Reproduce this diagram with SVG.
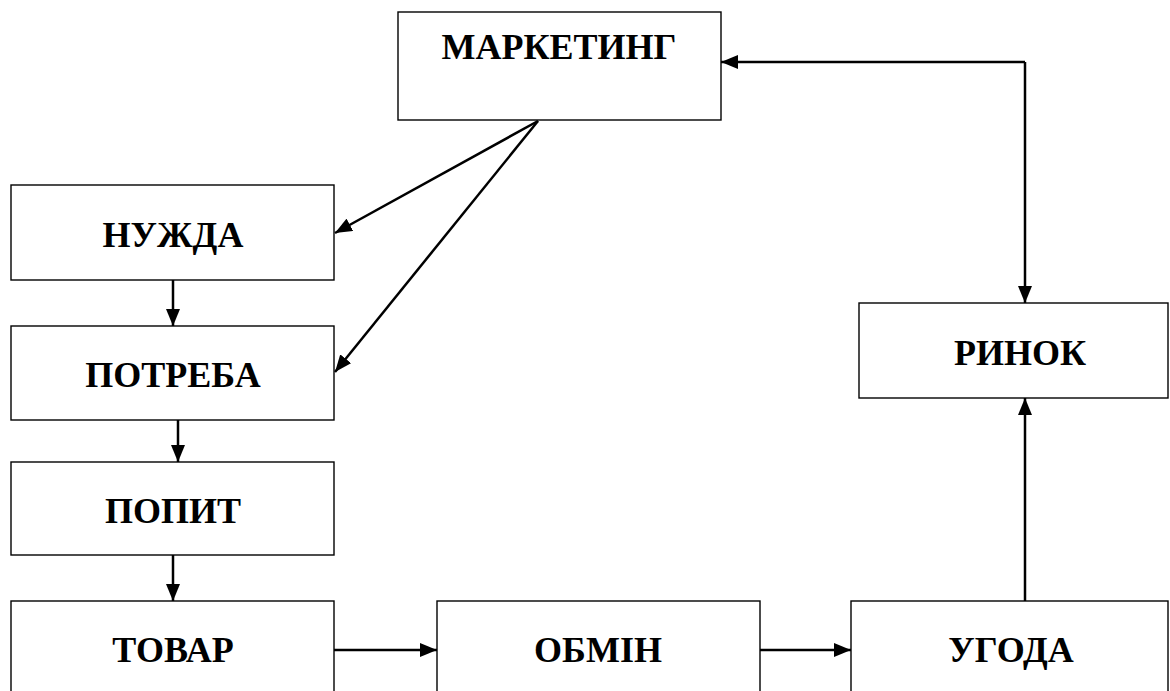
<svg xmlns="http://www.w3.org/2000/svg" width="1170" height="691" viewBox="0 0 1170 691">
<style>
.box{fill:#fff;stroke:#000;stroke-width:1.4}
.lbl{font-family:"Liberation Serif","Times New Roman",serif;font-weight:bold;font-size:36px;text-anchor:middle;fill:#000}
.con{fill:none;stroke:#000;stroke-width:2.5;marker-end:url(#ah)}
.plain{fill:none;stroke:#000;stroke-width:2.5}
</style>
<defs>
<marker id="ah" markerUnits="userSpaceOnUse" markerWidth="18" markerHeight="14" refX="17" refY="7" orient="auto">
<path d="M0,0 L17,7 L0,14 Z" fill="#000"/>
</marker>
</defs>
<rect width="1170" height="691" fill="#fff"/>
<g id="marketing"><rect class="box" x="398" y="12" width="323" height="108"/><text class="lbl" x="559" y="59">МАРКЕТИНГ</text></g>
<g id="nuzhda"><rect class="box" x="11" y="185" width="323" height="95"/><text class="lbl" x="173" y="247">НУЖДА</text></g>
<g id="potreba"><rect class="box" x="11" y="326" width="323" height="94"/><text class="lbl" x="173" y="387">ПОТРЕБА</text></g>
<g id="popyt"><rect class="box" x="11" y="462" width="323" height="93"/><text class="lbl" x="173" y="523">ПОПИТ</text></g>
<g id="tovar"><rect class="box" x="11" y="601" width="323" height="96"/><text class="lbl" x="173" y="662">ТОВАР</text></g>
<g id="obmin"><rect class="box" x="437" y="601" width="323" height="96"/><text class="lbl" x="598" y="662">ОБМІН</text></g>
<g id="uhoda"><rect class="box" x="851" y="601" width="317" height="96"/><text class="lbl" x="1011" y="662">УГОДА</text></g>
<g id="rynok"><rect class="box" x="859" y="303" width="309" height="95"/><text class="lbl" x="1020" y="365">РИНОК</text></g>
<g id="connectors">
<path class="con" d="M538,121 L335,233"/>
<path class="con" d="M538,121 L335,372"/>
<path class="con" d="M173,280 L173,326"/>
<path class="con" d="M178,420 L178,462"/>
<path class="con" d="M173,555 L173,601"/>
<path class="con" d="M334,650 L437,650"/>
<path class="con" d="M760,650 L851,650"/>
<path class="con" d="M1025,601 L1025,398"/>
<path class="con" d="M1025,62 L1025,303"/>
<path class="con" d="M1025,62 L721,62"/>
</g>
</svg>
